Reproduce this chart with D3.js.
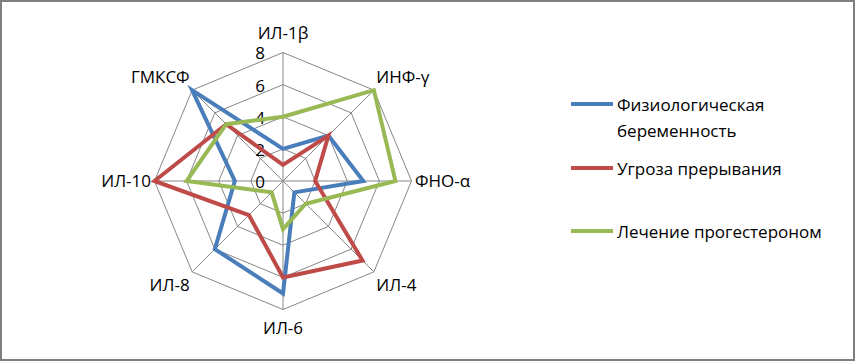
<!DOCTYPE html>
<html>
<head>
<meta charset="utf-8">
<script src="https://cdn.jsdelivr.net/npm/d3@7"></script>
<style>
  html, body { margin: 0; padding: 0; background: #fff; }
  svg text { font-family: "Open Sans", sans-serif; fill: #000; }
</style>
</head>
<body>
<svg id="chart" width="855" height="361"></svg>
<script>
const categories = ["ИЛ-1β", "ИНФ-γ", "ФНО-α", "ИЛ-4", "ИЛ-6", "ИЛ-8", "ИЛ-10", "ГМКСФ"];
const tickValues = [0, 2, 4, 6, 8];
const seriesNames = ["Физиологическая беременность", "Угроза прерывания", "Лечение прогестероном"];
const physiological = [2, 4, 5, 1, 7, 6, 3, 8];
const threat = [1, 4, 2, 7, 6, 3, 8, 5];
const progesterone = [4, 8, 7, 2, 3, 1, 6, 5];
const colors = ["#4a7ebb", "#be4b48", "#98b954"];

const svg = d3.select("#chart");
const cx = 283, cy = 181, radius = 128.5;

// outer frame
svg.append("rect")
  .attr("x", 1).attr("y", 1).attr("width", 853).attr("height", 359)
  .attr("fill", "#fff").attr("stroke", "#808080").attr("stroke-width", 2);

const r = d3.scaleLinear().domain([0, 8]).range([0, radius]);
const angle = d3.scaleLinear().domain([0, categories.length]).range([0, 2 * Math.PI]);

const g = svg.append("g").attr("transform", "translate(" + cx + "," + cy + ")");

const pt = (i, v) => [r(v) * Math.sin(angle(i)), -r(v) * Math.cos(angle(i))];

// grid polygons
g.selectAll(".grid")
  .data(tickValues.filter(d => d > 0))
  .enter()
  .append("polygon")
  .attr("points", d => categories.map((c, i) => pt(i, d).join(",")).join(" "))
  .attr("fill", "none")
  .attr("stroke", "#868686")
  .attr("stroke-width", 1);

// spokes
g.selectAll(".spoke")
  .data(categories)
  .enter()
  .append("line")
  .attr("x1", 0).attr("y1", 0)
  .attr("x2", (d, i) => pt(i, 8)[0])
  .attr("y2", (d, i) => pt(i, 8)[1])
  .attr("stroke", "#868686")
  .attr("stroke-width", 1);

// tick labels
g.selectAll(".tick")
  .data(tickValues)
  .enter()
  .append("text")
  .attr("x", -23)
  .attr("y", d => -r(d) + 1)
  .attr("dy", "0.35em")
  .attr("text-anchor", "middle")
  .style("font-size", "17px")
  .text(d => d);

// category labels
g.selectAll(".cat")
  .data(categories)
  .enter()
  .append("text")
  .attr("x", (d, i) => pt(i, 8)[0] + Math.sin(angle(i)) * 3.5)
  .attr("y", (d, i) => pt(i, 8)[1] - Math.cos(angle(i)) * 19)
  .attr("dy", "0.35em")
  .attr("text-anchor", (d, i) => {
    const s = Math.sin(angle(i));
    return Math.abs(s) < 0.01 ? "middle" : (s > 0 ? "start" : "end");
  })
  .style("font-size", "17px")
  .text(d => d);

// series
const line = d3.lineRadial()
  .angle((d, i) => angle(i))
  .radius(d => r(d))
  .curve(d3.curveLinearClosed);

const allSeries = [physiological, threat, progesterone];
g.selectAll(".series")
  .data(allSeries)
  .enter()
  .append("path")
  .attr("d", d => line(d))
  .attr("fill", "none")
  .attr("stroke", (d, i) => colors[i])
  .attr("stroke-width", 4)
  .attr("stroke-linejoin", "miter");

// legend
const legendY = [104, 168, 231];
const legend = svg.append("g");
const items = legend.selectAll(".item")
  .data(seriesNames)
  .enter()
  .append("g")
  .attr("transform", (d, i) => "translate(571," + legendY[i] + ")");

items.append("line")
  .attr("x1", 0).attr("x2", 42)
  .attr("stroke", (d, i) => colors[i])
  .attr("stroke-width", 4);

items.append("text")
  .attr("y", 1)
  .style("font-size", "17px")
  .each(function (d) {
    const words = d === seriesNames[0] ? ["Физиологическая", "беременность"] : [d];
    d3.select(this).selectAll("tspan")
      .data(words)
      .enter()
      .append("tspan")
      .attr("x", 46)
      .attr("dy", (w, j) => j === 0 ? "0.35em" : "1.55em")
      .text(w => w);
  });
</script>
</body>
</html>
